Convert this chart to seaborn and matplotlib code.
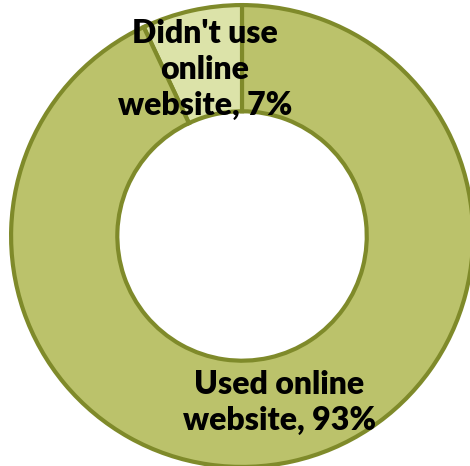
import matplotlib
matplotlib.use("Agg")
import matplotlib.pyplot as plt
import seaborn as sns

# Share of respondents by whether they used the online website
categories = ["Didn't use\nonline\nwebsite, 7%", "Used online\nwebsite, 93%"]
shares = [7, 93]

sns.set_theme(style="white")
plt.rcParams["font.family"] = ["Lato", "DejaVu Sans"]

fill_colors = ["#DCE3A9", "#BBC26B"]
edge_color = "#7F8A2A"

fig = plt.figure(figsize=(4.70, 4.66), dpi=100)
ax = fig.add_axes([0, 0, 1, 1])

wedges, texts = ax.pie(
    shares,
    labels=categories,
    colors=fill_colors,
    startangle=90,
    counterclock=True,
    labeldistance=0.74,
    radius=1.0,
    wedgeprops=dict(width=0.46, edgecolor=edge_color, linewidth=3),
    textprops=dict(fontsize=23, fontweight="heavy", color="black", linespacing=1.3),
)
for t in texts:
    t.set_ha("center")
    t.set_va("center")
    t.set_multialignment("center")

ax.set_aspect("auto")
ax.set_xlim(-1.048, 0.987)
ax.set_ylim(-0.996, 1.022)
ax.axis("off")

fig.savefig("out.png", dpi=100, facecolor="white")
